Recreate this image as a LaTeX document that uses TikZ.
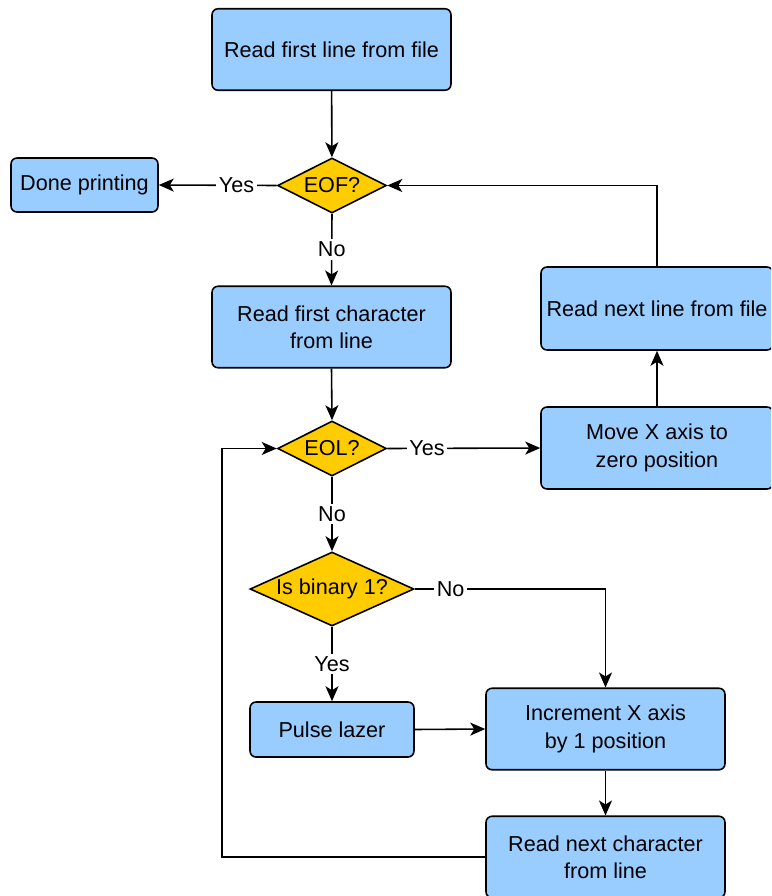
\documentclass[tikz,border=0pt]{standalone}
\usepackage{fontspec}
\setmainfont{Liberation Sans}
\usetikzlibrary{shapes.geometric, arrows.meta}

\tikzset{
	stepbox/.style={draw, line width=0.9pt, rounded corners=0.12cm, fill=boxblue,
		align=center, minimum width=4.78cm, minimum height=1.63cm, inner sep=2pt},
	test/.style={draw, line width=0.9pt, diamond, fill=testgold, aspect=2,
		inner sep=0pt, minimum width=2.18cm, minimum height=1.1cm},
	lbl/.style={fill=white, inner sep=1.5pt},
	flow/.style={line width=0.9pt, -{Stealth[length=0.3cm, width=0.26cm, inset=0.08cm]}}
}
\definecolor{boxblue}{HTML}{99CCFF}
\definecolor{testgold}{HTML}{FFCC00}

\begin{document}
\begin{tikzpicture}[x=0.02cm, y=-0.02cm, font=\fontsize{12.3}{15.5}\selectfont]
		\useasboundingbox (0,0) rectangle (771,896);
		\clip (0,0) rectangle (771,896);

		% left column
		\node[stepbox] (readfirst) at (331.5,49.5) {Read first line from file};
		\node[test] (eof) at (332,185.5) {EOF?};
		\node[stepbox, minimum width=2.94cm, minimum height=1.08cm] (done) at (84.5,185) {Done printing};
		\node[stepbox] (readchar) at (331.5,327) {Read first character\\from line};
		\node[test] (eol) at (332,448.5) {EOL?};
		\node[test, aspect=2.2, minimum width=3.28cm, minimum height=1.48cm] (isone) at (332,589) {Is binary 1?};
		\node[stepbox, minimum width=3.28cm, minimum height=1.1cm] (pulse) at (332,729.5) {Pulse lazer};

		% right column
		\node[stepbox, minimum width=4.64cm, minimum height=1.66cm] (nextline) at (657,308.5) {Read next line from file};
		\node[stepbox, minimum width=4.64cm, minimum height=1.64cm] (movex) at (657,448) {Move X axis to\\zero position};
		\node[stepbox] (incr) at (605.5,729) {Increment X axis\\by 1 position};
		\node[stepbox] (nextchar) at (605.5,857) {Read next character\\from line};
		\coordinate (loop) at (222,857);

		\draw[flow] (readfirst) -- (eof);
		\draw[flow] (eof.west) -- node[lbl, pos=0.34] {Yes} (done.east);
		\draw[flow] (eof.south) -- node[lbl] {No} (readchar.north);
		\draw[flow] (nextline.north) |- (eof.east);
		\draw[flow] (movex.north) -- (nextline.south);
		\draw[flow] (readchar.south) -- (eol.north);
		\draw[flow] (eol.east) -- node[lbl, pos=0.26] {Yes} (movex.west);
		\draw[flow] (eol.south) -- node[lbl] {No} (isone.north);
		\draw[flow] (isone.east) -| node[lbl, pos=0.094] {No} (incr.north);
		\draw[flow] (isone.south) -- node[lbl] {Yes} (pulse.north);
		\draw[flow] (pulse.east) -- (incr.west);
		\draw[flow] (incr.south) -- (nextchar.north);
		\draw[flow] (nextchar.west) -- (loop) |- (eol.west);
	\end{tikzpicture}
\end{document}
